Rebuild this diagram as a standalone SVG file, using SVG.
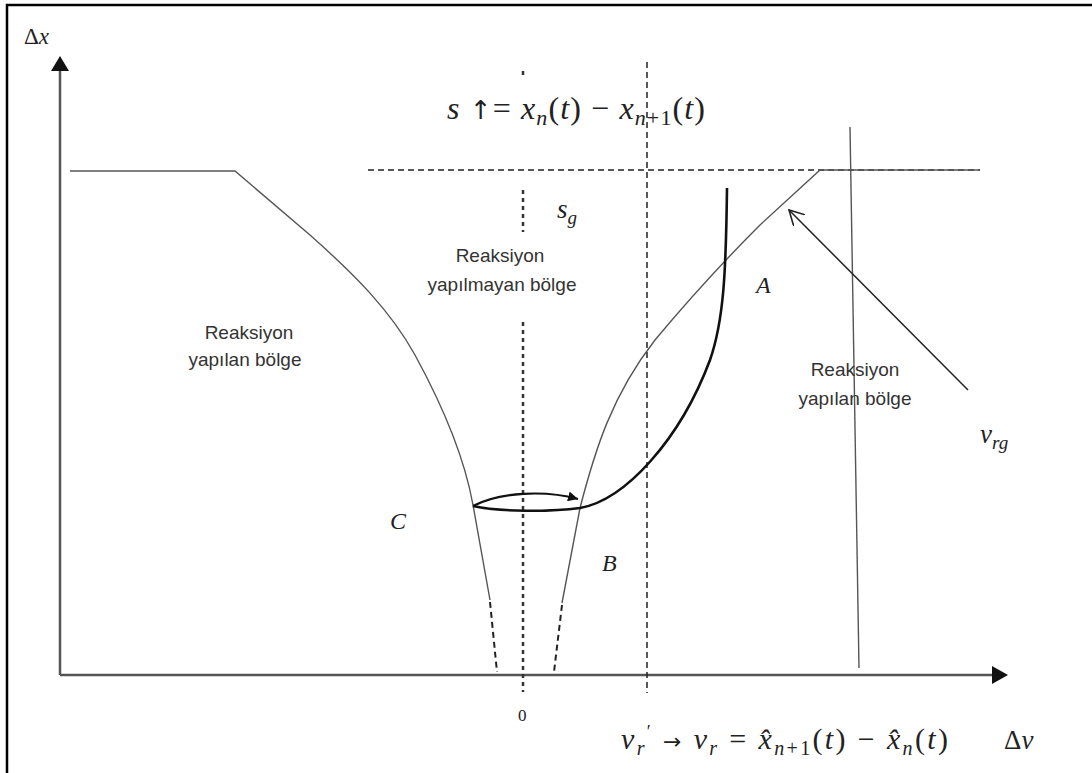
<svg xmlns="http://www.w3.org/2000/svg" width="1092" height="773" viewBox="0 0 1092 773">
<defs>
<style>
.sans{font-family:"Liberation Sans",Arial,sans-serif;font-size:19px;fill:#333;text-anchor:middle}
.math{font-family:"Liberation Serif","DejaVu Serif",serif;fill:#222}
.sym{font-family:"DejaVu Sans","Liberation Sans",sans-serif}
.it{font-style:italic}
.thin{fill:none;stroke:#555;stroke-width:1.4}
.axis{fill:none;stroke:#555;stroke-width:2.5}
.thick{fill:none;stroke:#111;stroke-width:2.6}
.dash{fill:none;stroke:#222;stroke-width:1.5;stroke-dasharray:6 4}
.dot{fill:none;stroke:#333;stroke-width:2.5;stroke-dasharray:4 4}
</style>
<marker id="openHead" viewBox="0 0 12 12" refX="11" refY="6" markerWidth="16" markerHeight="16" markerUnits="userSpaceOnUse" orient="auto">
<path d="M0,0 L11,6 L0,12" fill="none" stroke="#222" stroke-width="1.2"/>
</marker>
<marker id="arcHead" viewBox="0 0 10 10" refX="10" refY="5" markerWidth="10" markerHeight="10" markerUnits="userSpaceOnUse" orient="auto">
<path d="M0,0 L10,5 L0,10 z" fill="#111"/>
</marker>
</defs>
<rect width="1092" height="773" fill="#fff"/>
<path d="M7,773 V5 H1092" fill="none" stroke="#000" stroke-width="2.5"/>

<g id="axes">
<line class="axis" x1="60" y1="675" x2="60" y2="70"/>
<path d="M51,71 L60,56 L69,71 z" fill="#111"/>
<line class="axis" x1="60" y1="675" x2="994" y2="675"/>
<path d="M992,666 L1008,675 L992,684 z" fill="#111"/>
</g>

<g id="connectors">
<line class="dash" x1="368" y1="170" x2="980" y2="170"/>
<line class="dash" x1="647" y1="62" x2="647" y2="693"/>
<line class="dot" x1="523" y1="71" x2="523" y2="78"/>
<line class="dot" x1="523" y1="190" x2="523" y2="232"/>
<line class="dot" x1="523" y1="322" x2="523" y2="692"/>
<line class="thin" x1="850" y1="127" x2="859" y2="668"/>
<path class="thin" d="M70,171 H235 L310,235 C355,275 390,310 415,355 C445,410 465,460 473,505 L490,600"/>
<line class="dash" x1="490" y1="602" x2="497" y2="672" style="stroke-width:2"/>
<path class="thin" d="M562,603 L580,508 C595,450 612,395 655,340 C690,298 720,265 760,225 L820,170 H980"/>
<line class="dash" x1="562" y1="605" x2="554" y2="672" style="stroke-width:2"/>
<path class="thick" d="M473,506 C500,512 550,512 580,508 C625,500 680,440 710,360 C724,320 726,270 727,188"/>
<path class="thick" d="M473,506 C500,492 545,490 578,499" marker-end="url(#arcHead)" style="stroke-width:2.2"/>
<line x1="968" y1="390" x2="789" y2="210" stroke="#222" stroke-width="1.5" marker-end="url(#openHead)"/>
</g>

<g id="labels">
<text class="math" x="24" y="44" font-size="23">Δ<tspan class="it">x</tspan></text>
<text class="math" x="447" y="119" font-size="32" textLength="258" lengthAdjust="spacing"><tspan class="it">s</tspan> <tspan class="sym" font-size="26">↑</tspan>= <tspan class="it">x</tspan><tspan class="it" font-size="22" dy="6">n</tspan><tspan dy="-6">(</tspan><tspan class="it">t</tspan>) − <tspan class="it">x</tspan><tspan class="it" font-size="22" dy="6">n</tspan><tspan font-size="22">+1</tspan><tspan dy="-6">(</tspan><tspan class="it">t</tspan>)</text>
<text class="math" x="557" y="218" font-size="27"><tspan class="it">s</tspan><tspan class="it" font-size="19" dy="6">g</tspan></text>
<text class="sans" x="500" y="262">Reaksiyon</text>
<text class="sans" x="502" y="291">yapılmayan bölge</text>
<text class="sans" x="249" y="339">Reaksiyon</text>
<text class="sans" x="245" y="366">yapılan bölge</text>
<text class="sans" x="855" y="376">Reaksiyon</text>
<text class="sans" x="855" y="405">yapılan bölge</text>
<text class="math it" x="756" y="293" font-size="24">A</text>
<text class="math it" x="390" y="529" font-size="24">C</text>
<text class="math it" x="602" y="571" font-size="24">B</text>
<text class="math" x="980" y="443" font-size="27"><tspan class="it">v</tspan><tspan class="it" font-size="19" dy="6">rg</tspan></text>
<text class="math" x="518" y="721" font-size="17">0</text>
<text class="math" x="621" y="749" font-size="30" textLength="327" lengthAdjust="spacing"><tspan class="it">v</tspan><tspan class="it" font-size="20" dy="6">r</tspan><tspan font-size="18" dy="-17">′</tspan><tspan dy="11"> </tspan><tspan class="sym" font-size="22">→</tspan> <tspan class="it">v</tspan><tspan class="it" font-size="20" dy="6">r</tspan><tspan dy="-6"> = </tspan><tspan class="it">x̂</tspan><tspan class="it" font-size="20" dy="6">n</tspan><tspan font-size="20">+1</tspan><tspan dy="-6">(</tspan><tspan class="it">t</tspan>) − <tspan class="it">x̂</tspan><tspan class="it" font-size="20" dy="6">n</tspan><tspan dy="-6">(</tspan><tspan class="it">t</tspan>)</text>
<text class="math" x="1004" y="749" font-size="27">Δ<tspan class="it">v</tspan></text>
</g>
</svg>
